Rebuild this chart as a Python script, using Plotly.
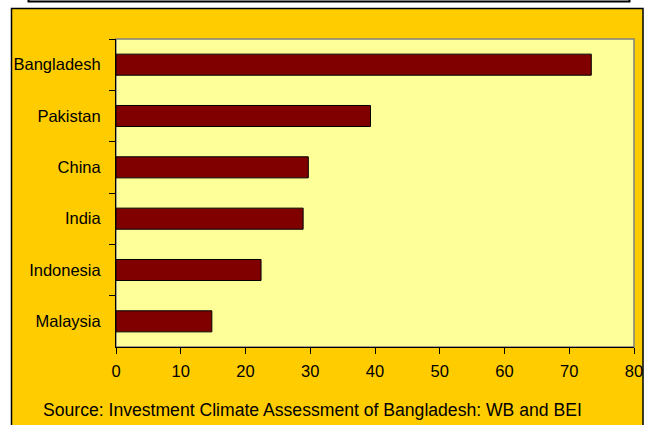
import plotly.graph_objects as go

countries = ["Bangladesh", "Pakistan", "China", "India", "Indonesia", "Malaysia"]
values = [73.4, 39.3, 29.7, 28.9, 22.4, 14.8]
x_ticks = [0, 10, 20, 30, 40, 50, 60, 70, 80]
source_text = "Source: Investment Climate Assessment of Bangladesh: WB and BEI"

W, H = 645, 425
L, R, T, B = 116, 11, 39, 78
pw, ph = W - L - R, H - T - B


def px_x(p):
    return (p - L) / pw


def px_y(p):
    return (H - B - p) / ph


fig = go.Figure()
fig.add_trace(go.Bar(
    x=values, y=countries, orientation="h", width=0.41,
    marker=dict(color="#800000", line=dict(color="#000000", width=1)),
    hoverinfo="x+y",
))

font = dict(family="Liberation Sans, Arial, sans-serif", size=16.5, color="#000000")

shapes = [
    # orange chart area
    dict(type="rect", xref="paper", yref="paper", layer="below",
         x0=px_x(11.5), x1=px_x(643), y0=px_y(430), y1=px_y(8.5),
         fillcolor="#FFCC00", line=dict(color="#000000", width=1.5)),
    # white title box at top
    dict(type="rect", xref="paper", yref="paper", layer="below",
         x0=px_x(28.5), x1=px_x(629.5), y0=px_y(1.5), y1=px_y(-10),
         fillcolor="#FFFFFF", line=dict(color="#000000", width=2)),
    # plot area
    dict(type="rect", xref="paper", yref="paper", layer="below",
         x0=0, x1=1, y0=0, y1=1,
         fillcolor="#FFFF99", line=dict(color="#808080", width=1.5)),
]

fig.update_layout(
    width=W, height=H,
    autosize=False,
    margin=dict(l=L, r=R, t=T, b=B, autoexpand=False),
    paper_bgcolor="#FFFFFF",
    plot_bgcolor="rgba(0,0,0,0)",
    font=font,
    showlegend=False,
    bargap=0.59,
    shapes=shapes,
    xaxis=dict(range=[0, 80], tickvals=x_ticks, ticks="outside", ticklen=6,
               tickcolor="#000000", showline=True, linecolor="#000000", linewidth=1,
               showgrid=False, zeroline=False, tickfont=font, fixedrange=True,
               automargin=False, ticklabelstandoff=3),
    yaxis=dict(autorange="reversed", type="category", categoryorder="array",
               categoryarray=countries, tickson="boundaries", ticks="outside", ticklen=6,
               tickcolor="#000000", showline=True, linecolor="#000000", linewidth=1,
               showgrid=False, zeroline=False, tickfont=font, fixedrange=True,
               automargin=False, ticklabelstandoff=11),
    annotations=[dict(text=source_text, xref="paper", yref="paper",
                      x=px_x(41), y=px_y(410), xanchor="left", yanchor="middle",
                      showarrow=False, font=dict(family=font["family"], size=17.6, color="#000000"))],
)

fig.write_html("out.html")
